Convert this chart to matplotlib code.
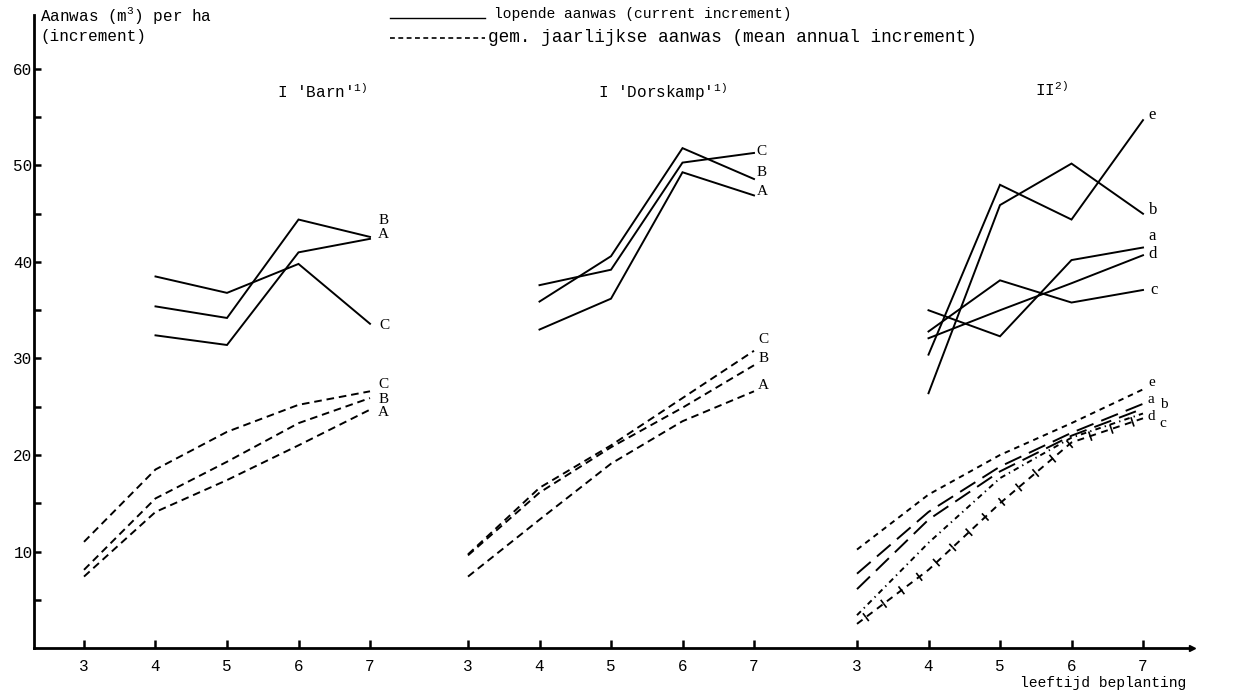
import matplotlib
matplotlib.use("Agg")
import matplotlib.pyplot as plt
from matplotlib.lines import Line2D
from matplotlib import patheffects as pe

# ---------------- data ----------------
ages_current = [4, 5, 6, 7]
ages_mean = [3, 4, 5, 6, 7]
tick_ages = [3, 4, 5, 6, 7]
y_major = [10, 20, 30, 40, 50, 60]
y_minor = [5, 15, 25, 35, 45, 55]

# Panel I 'Barn'
barn_cur_A = [32.4, 31.4, 41.0, 42.4]
barn_cur_B = [35.4, 34.2, 44.4, 42.6]
barn_cur_C = [38.5, 36.8, 39.8, 33.6]
barn_mai_A = [7.4, 14.1, 17.4, 21.0, 24.7]
barn_mai_B = [8.1, 15.5, 19.3, 23.3, 25.9]
barn_mai_C = [11.0, 18.5, 22.4, 25.2, 26.6]

# Panel I 'Dorskamp'
dors_cur_A = [33.0, 36.2, 49.3, 46.9]
dors_cur_B = [35.9, 40.6, 51.8, 48.6]
dors_cur_C = [37.6, 39.2, 50.3, 51.3]
dors_mai_A = [7.4, 13.3, 19.1, 23.5, 26.6]
dors_mai_B = [9.6, 16.1, 20.8, 24.9, 29.3]
dors_mai_C = [9.7, 16.6, 21.0, 25.9, 30.8]

# Panel II
ii_cur_a = [35.0, 32.3, 40.2, 41.5]
ii_cur_b = [26.4, 45.9, 50.2, 45.0]
ii_cur_c = [32.8, 38.1, 35.8, 37.1]
ii_cur_d = [32.1, 35.0, 37.8, 40.7]
ii_cur_e = [30.4, 48.0, 44.4, 54.7]
ii_mai_a = [7.7, 14.1, 18.8, 22.3, 25.3]
ii_mai_b = [6.1, 13.3, 18.3, 22.0, 24.8]
ii_mai_c = [2.5, 8.1, 15.0, 21.3, 23.8]
ii_mai_d = [3.4, 10.9, 17.6, 21.8, 24.3]
ii_mai_e = [10.2, 15.9, 20.0, 23.3, 26.8]

panel_titles = ["I 'Barn'$^{1)}$", "I 'Dorskamp'$^{1)}$", "II$^{2)}$"]
ylabel_1 = "Aanwas (m$^{3}$) per ha"
ylabel_2 = "(increment)"
xlabel = "leeftijd beplanting"
legend_solid = "lopende aanwas (current increment)"
legend_dashed = "gem. jaarlijkse aanwas (mean annual increment)"

# ---------------- styling ----------------
plt.rcParams["lines.scale_dashes"] = False
plt.rcParams["mathtext.fontset"] = "custom"
plt.rcParams["mathtext.rm"] = "Liberation Mono"
plt.rcParams["mathtext.it"] = "Liberation Mono"
plt.rcParams["mathtext.bf"] = "Liberation Mono"
MONO = "Liberation Mono"
SERIF = "Liberation Serif"

W, H = 1238, 692
fig = plt.figure(figsize=(W / 100, H / 100), dpi=100)
fig.patch.set_facecolor("white")

PX_AGE = 71.5          # pixels per year
PX_UNIT = 9.65         # pixels per m3
ax_left_px, ax_right_px, ax_bottom_px, ax_top_px = 34, 1192, 648, 15
ax = fig.add_axes([ax_left_px / W, (H - ax_bottom_px) / H,
                   (ax_right_px - ax_left_px) / W, (ax_bottom_px - ax_top_px) / H])
ax.set_xlim(3 - (84 - ax_left_px) / PX_AGE, 3 + (ax_right_px - 84) / PX_AGE)
ax.set_ylim(0, (ax_bottom_px - ax_top_px) / PX_UNIT)

offsets = [0.0, (468 - 84) / PX_AGE, (857 - 84) / PX_AGE]

LW = 1.4
mai_dash = (0, (5.5, 3.5))

panels = [
    {
        "cur": {"A": barn_cur_A, "B": barn_cur_B, "C": barn_cur_C},
        "mai": {"A": barn_mai_A, "B": barn_mai_B, "C": barn_mai_C},
        "cur_lab": {"A": (6, 3), "B": (6, 12), "C": (7, -1)},
        "mai_lab": {"A": (6, -2), "B": (6, -1), "C": (6, 5)},
        "mai_style": {},
    },
    {
        "cur": {"A": dors_cur_A, "B": dors_cur_B, "C": dors_cur_C},
        "mai": {"A": dors_mai_A, "B": dors_mai_B, "C": dors_mai_C},
        "cur_lab": {"A": (2, 3), "B": (2, 5), "C": (2, 1)},
        "mai_lab": {"A": (3, 4), "B": (3, 5), "C": (3, 8)},
        "mai_style": {},
    },
    {
        "cur": {"a": ii_cur_a, "b": ii_cur_b, "c": ii_cur_c, "d": ii_cur_d, "e": ii_cur_e},
        "mai": {"a": ii_mai_a, "b": ii_mai_b, "c": ii_mai_c, "d": ii_mai_d, "e": ii_mai_e},
        "cur_lab": {"a": (4, 8), "b": (4, 3), "c": (5, 0), "d": (4, 1), "e": (4, 4)},
        "mai_lab": {"a": (3, 3), "b": (12, 3), "c": (12, -4), "d": (3, -2), "e": (4, 5)},
        "mai_style": {
            "e": dict(ls=(0, (4, 3.5))),
            "a": dict(ls=(0, (13, 6))),
            "b": dict(ls=(0, (13, 6))),
            "d": dict(ls=(0, (4, 3, 1, 3))),
            "c": dict(ls=(0, (5, 4)), path_effects=[
                pe.Normal(),
                pe.TickedStroke(spacing=16, angle=90, length=0.22, linewidth=1.2),
                pe.TickedStroke(spacing=16, angle=-90, length=0.22, linewidth=1.2)]),
        },
    },
]

for off, p in zip(offsets, panels):
    xc = [a + off for a in ages_current]
    xm = [a + off for a in ages_mean]
    for name, vals in p["cur"].items():
        ax.plot(xc, vals, color="black", lw=LW, solid_joinstyle="miter")
        dx, dy = p["cur_lab"][name]
        fs = 11 if name.isupper() else 12
        ax.annotate(name, xy=(xc[-1], vals[-1]), xytext=(dx, dy),
                    textcoords="offset points", ha="left", va="center",
                    fontsize=fs, family=SERIF)
    for name, vals in p["mai"].items():
        style = dict(ls=mai_dash)
        style.update(p["mai_style"].get(name, {}))
        ax.plot(xm, vals, color="black", lw=LW, **style)
        dx, dy = p["mai_lab"][name]
        fs = 11 if name.isupper() else 11
        ax.annotate(name, xy=(xm[-1], vals[-1]), xytext=(dx, dy),
                    textcoords="offset points", ha="left", va="center",
                    fontsize=fs, family=SERIF)

# axes / ticks
for s in ["top", "right"]:
    ax.spines[s].set_visible(False)
ax.spines["left"].set_linewidth(2.0)
ax.spines["bottom"].set_linewidth(2.0)
ax.plot(1, 0, ">", color="black", ms=4, transform=ax.transAxes, clip_on=False)

xt, xl = [], []
for off in offsets:
    for a in tick_ages:
        xt.append(a + off)
        xl.append(str(a))
ax.set_xticks(xt)
ax.set_xticklabels(xl, family=MONO, fontsize=11.5)
ax.tick_params(axis="x", direction="in", length=6, width=1.8, pad=8)
ax.set_yticks(y_major)
ax.set_yticklabels([str(v) for v in y_major], family=MONO, fontsize=11.5)
ax.set_yticks(y_minor, minor=True)
ax.tick_params(axis="y", which="major", direction="in", length=5, width=1.8, pad=1)
ax.tick_params(axis="y", which="minor", direction="in", length=5, width=1.8)

# texts
def ftext(x, y, s, **kw):
    fig.text(x / W, 1 - y / H, s, **kw)

ftext(40, 16, ylabel_1, family=MONO, fontsize=11.5, va="center", ha="left")
ftext(40, 37, ylabel_2, family=MONO, fontsize=11.5, va="center", ha="left")
ftext(1186, 683, xlabel, family=MONO, fontsize=10.5, va="center", ha="right")

fig.add_artist(Line2D([390 / W, 485 / W], [1 - 18 / H, 1 - 18 / H], color="black",
                      lw=1.0, transform=fig.transFigure))
fig.add_artist(Line2D([390 / W, 485 / W], [1 - 38 / H, 1 - 38 / H], color="black",
                      lw=1.2, ls=(0, (3.5, 2.5)), transform=fig.transFigure))
ftext(494, 14, legend_solid, family=MONO, fontsize=10.5, va="center", ha="left")
ftext(488, 37, legend_dashed, family=MONO, fontsize=12.8, va="center", ha="left")

title_pos = [(277, 92), (598, 92), (1035, 90)]
for (tx, ty), t in zip(title_pos, panel_titles):
    ftext(tx, ty, t, family=MONO, fontsize=11.5, va="center", ha="left")

fig.savefig("out.png", dpi=100, facecolor="white")
